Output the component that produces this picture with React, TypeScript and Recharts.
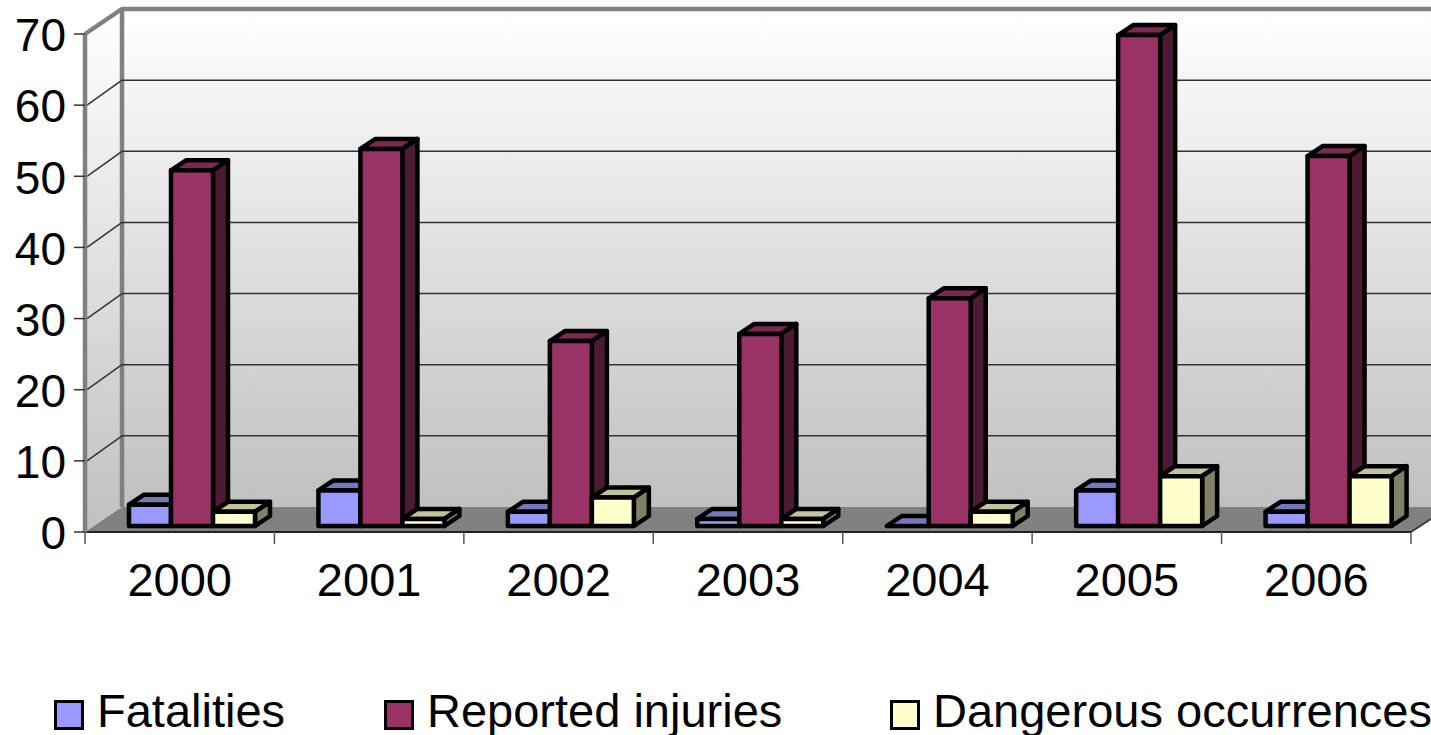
import { BarChart, Bar, XAxis, YAxis, CartesianGrid, Legend } from "recharts"

const years = ["2000", "2001", "2002", "2003", "2004", "2005", "2006"]
const fatalities = [3, 5, 2, 1, 0, 5, 2]
const reportedInjuries = [50, 53, 26, 27, 32, 69, 52]
const dangerousOccurrences = [2, 1, 4, 1, 2, 7, 7]
const yTicks = [0, 10, 20, 30, 40, 50, 60, 70]

const data = years.map((year, i) => ({
  year,
  fatalities: fatalities[i],
  injuries: reportedInjuries[i],
  dangerous: dangerousOccurrences[i],
}))

const WIDTH = 1431
const HEIGHT = 735
const LEFT = 85
const TOP = 34
const BOTTOM = 532
const RIGHT = 1411
// depth of the back wall and of the bars
const DX = 37
const DY = -25
const BAR_DX = 15
const BAR_DY = -10
const GRAY = "#808080"

const SHADES: Record<string, { top: string; side: string }> = {
  "#9999ff": { top: "#7777bb", side: "#4d4d80" },
  "#993366": { top: "#7a2952", side: "#4d1a33" },
  "#ffffcc": { top: "#c2c29c", side: "#808066" },
}

const legendLeft = [54, 384, 890]
const legendTextGap = 43

const Box3D = (props: any) => {
  const { x, y, width, height, fill } = props
  // the bars stand a little inside the floor
  const l = x + 12
  const r = l + width
  const t = y - 6
  const b = t + height
  const shade = SHADES[fill]
  return (
    <g stroke="#000" strokeWidth={4.5} strokeLinejoin="round">
      <polygon
        points={`${l},${t} ${l + BAR_DX},${t + BAR_DY} ${r + BAR_DX},${t + BAR_DY} ${r},${t}`}
        fill={shade.top}
      />
      <polygon
        points={`${r},${t} ${r + BAR_DX},${t + BAR_DY} ${r + BAR_DX},${b + BAR_DY} ${r},${b}`}
        fill={shade.side}
      />
      <rect x={l} y={t} width={width} height={height} fill={fill} />
    </g>
  )
}

const GridLine = (props: any) => {
  const { x1, x2, y1 } = props
  const isFloor = Math.abs(y1 - BOTTOM) < 1
  const isTop = Math.abs(y1 - TOP) < 1
  if (isFloor || isTop) return <g />
  return (
    <g stroke="#333" strokeWidth={1.5} fill="none">
      <line x1={x1 + 2} y1={y1} x2={x1 + DX} y2={y1 + DY} />
      <line x1={x1 + DX} y1={y1 + DY} x2={x2 + 30} y2={y1 + DY} />
    </g>
  )
}

// tick marks fall between the categories, labels stay centred
const YearTick = (props: any) => {
  const { x, y, payload, index } = props
  const half = (RIGHT - LEFT) / years.length / 2
  return (
    <g>
      <line x1={x - half} y1={BOTTOM} x2={x - half} y2={BOTTOM + 12} stroke="#555" strokeWidth={1.5} />
      {index === years.length - 1 && (
        <line x1={x + half} y1={BOTTOM} x2={x + half} y2={BOTTOM + 12} stroke="#555" strokeWidth={1.5} />
      )}
      <text x={x} y={y} dy="0.71em" textAnchor="middle" fontSize={47} fill="#000">
        {payload.value}
      </text>
    </g>
  )
}

// sits behind the chart's own svg
const Walls = () => (
  <svg width={WIDTH} height={HEIGHT} style={{ position: "absolute", left: 0, top: 0 }}>
    <defs>
      <linearGradient id="wall" x1="0" y1="0" x2="0" y2="1">
        <stop offset="0%" stopColor="#ffffff" />
        <stop offset="100%" stopColor="#c0c0c0" />
      </linearGradient>
    </defs>
    <polygon
      points={`${LEFT + DX},${TOP + DY} ${WIDTH},${TOP + DY} ${WIDTH},${BOTTOM + DY} ${LEFT + DX},${BOTTOM + DY}`}
      fill="url(#wall)"
    />
    <polygon
      points={`${LEFT},${TOP} ${LEFT + DX},${TOP + DY} ${LEFT + DX},${BOTTOM + DY} ${LEFT},${BOTTOM}`}
      fill="url(#wall)"
    />
    <polygon
      points={`${LEFT},${BOTTOM} ${LEFT + DX},${BOTTOM + DY} ${WIDTH + 20},${BOTTOM + DY} ${RIGHT},${BOTTOM}`}
      fill={GRAY}
    />
    <polyline
      points={`${LEFT},${TOP} ${LEFT + DX},${TOP + DY} ${WIDTH},${TOP + DY}`}
      fill="none"
      stroke={GRAY}
      strokeWidth={4.5}
    />
    <line x1={LEFT + DX} y1={TOP + DY} x2={LEFT + DX} y2={BOTTOM + DY} stroke={GRAY} strokeWidth={4.5} />
    <line x1={RIGHT} y1={BOTTOM} x2={WIDTH} y2={BOTTOM - 13} stroke="#333" strokeWidth={1.5} />
  </svg>
)

const LegendContent = ({ payload }: any) => (
  <div style={{ position: "relative", height: 55, width: WIDTH, overflow: "hidden", fontSize: 47, whiteSpace: "nowrap" }}>
    {(payload || []).map((item: any, i: number) => (
      <div key={item.value}>
        <div
          style={{
            position: "absolute",
            left: legendLeft[i],
            top: 20,
            width: 24,
            height: 24,
            background: item.color,
            border: "3px solid #000",
          }}
        />
        <span style={{ position: "absolute", left: legendLeft[i] + legendTextGap, top: 3, lineHeight: "55px", color: "#000" }}>
          {item.value}
        </span>
      </div>
    ))}
  </div>
)

export default function App() {
  return (
    <div style={{ position: "absolute", left: 0, top: 0, width: WIDTH, height: HEIGHT, overflow: "hidden", fontFamily: "'Liberation Sans', Arial, sans-serif" }}>
      <Walls />
      <BarChart
        width={WIDTH}
        height={HEIGHT}
        data={data}
        barSize={42}
        barGap={0}
        margin={{ top: TOP, right: WIDTH - RIGHT, left: 0, bottom: 0 }}
      >
        <CartesianGrid vertical={false} horizontal={GridLine as any} />
        <XAxis
          dataKey="year"
          height={148}
          interval={0}
          tickSize={11}
          tickMargin={20}
          axisLine={{ stroke: "#222", strokeWidth: 2 }}
          tickLine={false}
          tick={YearTick as any}
        />
        <YAxis
          domain={[0, 70]}
          ticks={yTicks}
          interval={0}
          width={LEFT}
          tickSize={11}
          tickMargin={8}
          axisLine={{ stroke: GRAY, strokeWidth: 4.5 }}
          tickLine={{ stroke: "#333", strokeWidth: 1.5 }}
          tick={{ fontSize: 46, fill: "#000", dy: 1 }}
        />
        <Legend
          verticalAlign="bottom"
          height={55}
          itemSorter={null}
          wrapperStyle={{ left: 0, width: WIDTH }}
          content={LegendContent as any}
        />
        <Bar dataKey="fatalities" name="Fatalities" fill="#9999ff" shape={Box3D} isAnimationActive={false} />
        <Bar dataKey="injuries" name="Reported injuries" fill="#993366" shape={Box3D} isAnimationActive={false} />
        <Bar dataKey="dangerous" name="Dangerous occurrences" fill="#ffffcc" shape={Box3D} isAnimationActive={false} />
      </BarChart>
    </div>
  )
}
